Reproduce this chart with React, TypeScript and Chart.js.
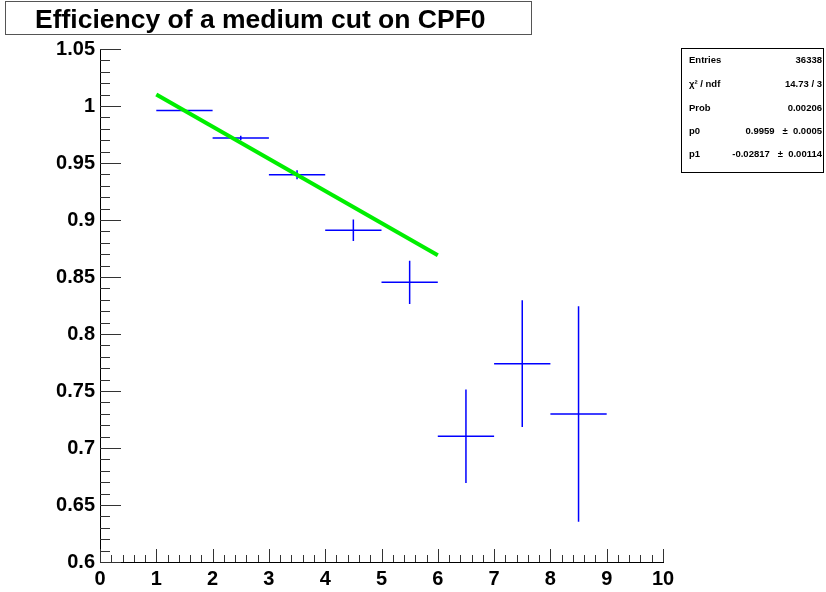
import { useEffect, useRef } from "react";
import { Chart, registerables } from "chart.js";

Chart.register(...registerables);

const chartTitle = "Efficiency of a medium cut on CPF0";
const binCenters = [1.5, 2.5, 3.5, 4.5, 5.5, 6.5, 7.5, 8.5];
const binHalfWidths = [0.5, 0.5, 0.5, 0.5, 0.5, 0.5, 0.5, 0.5];
const efficiency = [0.996, 0.9719, 0.9397, 0.891, 0.8453, 0.7103, 0.774, 0.7298];
const efficiencyErrors = [0.0005, 0.002, 0.004, 0.0094, 0.0189, 0.041, 0.0556, 0.0946];
const fitX = [1, 6];
const fitY = [1.01, 0.8691];
const xMin = 0;
const xMax = 10;
const yMin = 0.6;
const yMax = 1.05;
const statsLabels = ["Entries", "\u03c7\u00b2 / ndf", "Prob", "p0", "p1"];
const statsValues = ["36338", "14.73 / 3", "0.00206", "0.9959   \u00b1  0.0005", "-0.02817   \u00b1  0.00114"];

const FONT = "'Liberation Sans', Arial, Helvetica, sans-serif";

const decorPlugin = {
  id: "rootDecor",
  beforeDatasetsDraw(chart: any) {
    const ctx = chart.ctx;
    const xs = chart.scales.x;
    const ys = chart.scales.y;
    ctx.save();
    ctx.strokeStyle = "#0000ff";
    ctx.lineWidth = 1.5;
    for (let i = 0; i < binCenters.length; i++) {
      const xl = xs.getPixelForValue(binCenters[i] - binHalfWidths[i]);
      const xr = xs.getPixelForValue(binCenters[i] + binHalfWidths[i]);
      const xc = xs.getPixelForValue(binCenters[i]);
      const yc = ys.getPixelForValue(efficiency[i]);
      const yt = ys.getPixelForValue(efficiency[i] + efficiencyErrors[i]);
      const yb = ys.getPixelForValue(efficiency[i] - efficiencyErrors[i]);
      ctx.beginPath();
      ctx.moveTo(xl, yc);
      ctx.lineTo(xr, yc);
      ctx.moveTo(xc, yt);
      ctx.lineTo(xc, yb);
      ctx.stroke();
    }
    ctx.restore();
  },
  afterDraw(chart: any) {
    const ctx = chart.ctx;
    const xs = chart.scales.x;
    const ys = chart.scales.y;
    const area = chart.chartArea;
    ctx.save();
    // tick marks (inward)
    ctx.strokeStyle = "#333333";
    ctx.lineWidth = 1;
    ctx.beginPath();
    for (let k = 0; k <= 50; k++) {
      const v = xMin + k * 0.2;
      const px = Math.round(xs.getPixelForValue(v)) + 0.5;
      const len = k % 5 === 0 ? 13 : 7;
      ctx.moveTo(px, area.bottom);
      ctx.lineTo(px, area.bottom - len);
    }
    for (let k = 0; k <= 45; k++) {
      const v = yMin + k * 0.01;
      const py = Math.round(ys.getPixelForValue(v)) + 0.5;
      const len = k % 5 === 0 ? 21 : 10;
      ctx.moveTo(area.left, py);
      ctx.lineTo(area.left + len, py);
    }
    ctx.stroke();

    // title box
    ctx.fillStyle = "#ffffff";
    ctx.fillRect(5, 1, 526, 33);
    ctx.strokeStyle = "#555555";
    ctx.lineWidth = 1;
    ctx.strokeRect(5.5, 1.5, 526, 33);
    ctx.fillStyle = "#000000";
    ctx.font = `bold 26.5px ${FONT}`;
    ctx.textAlign = "left";
    ctx.textBaseline = "alphabetic";
    ctx.fillText(chartTitle, 35, 28);

    // stats box
    ctx.fillStyle = "#ffffff";
    ctx.fillRect(681, 48, 143, 125);
    ctx.strokeStyle = "#000000";
    ctx.strokeRect(681.5, 48.5, 142, 124);
    ctx.fillStyle = "#000000";
    ctx.font = `bold 9.5px ${FONT}`;
    const rows = [63, 87, 111, 134, 157];
    for (let i = 0; i < statsLabels.length; i++) {
      ctx.textAlign = "left";
      ctx.fillText(statsLabels[i], 689, rows[i]);
      ctx.textAlign = "right";
      ctx.fillText(statsValues[i], 822, rows[i]);
    }
    ctx.restore();
  },
};

export default function App() {
  const ref = useRef<HTMLCanvasElement | null>(null);
  useEffect(() => {
    if (!ref.current) return;
    const chart = new Chart(ref.current, {
      type: "scatter",
      data: {
        datasets: [
          {
            type: "line",
            label: "fit",
            data: fitX.map((x, i) => ({ x, y: fitY[i] })),
            borderColor: "#00ee00",
            borderWidth: 4,
            pointRadius: 0,
            fill: false,
            tension: 0,
          } as any,
          {
            label: "efficiency",
            data: binCenters.map((x, i) => ({ x, y: efficiency[i] })),
            pointRadius: 0,
            borderColor: "#0000ff",
            backgroundColor: "#0000ff",
          },
        ],
      },
      options: {
        responsive: false,
        animation: false,
        devicePixelRatio: 1,
        layout: { padding: { top: 49, right: 163, left: 0, bottom: 0 } },
        plugins: {
          legend: { display: false },
          tooltip: { enabled: false },
          title: { display: false },
        },
        scales: {
          x: {
            type: "linear",
            min: xMin,
            max: xMax,
            afterFit: (s: any) => {
              s.height = 30;
            },
            grid: { display: true, drawOnChartArea: false, drawTicks: false },
            border: { display: true, color: "#000000", width: 1 },
            ticks: {
              stepSize: 1,
              autoSkip: false,
              maxRotation: 0,
              padding: 5,
              color: "#000000",
              font: { family: FONT, size: 20, weight: "bold" },
              callback: (v: any) => String(v),
            },
          },
          y: {
            type: "linear",
            min: yMin,
            max: yMax,
            afterFit: (s: any) => {
              s.width = 100;
            },
            grid: { display: true, drawOnChartArea: false, drawTicks: false },
            border: { display: true, color: "#000000", width: 1 },
            ticks: {
              stepSize: 0.05,
              autoSkip: false,
              padding: 5,
              color: "#000000",
              font: { family: FONT, size: 20, weight: "bold" },
              callback: (v: any) => String(parseFloat(Number(v).toFixed(2))),
            },
          },
        },
      } as any,
      plugins: [decorPlugin],
    });
    return () => chart.destroy();
  }, []);
  return (
    <div style={{ position: "fixed", left: 0, top: 0, width: 826, height: 592, background: "#ffffff" }}>
      <canvas ref={ref} width={826} height={592} style={{ width: 826, height: 592 }} />
    </div>
  );
}
